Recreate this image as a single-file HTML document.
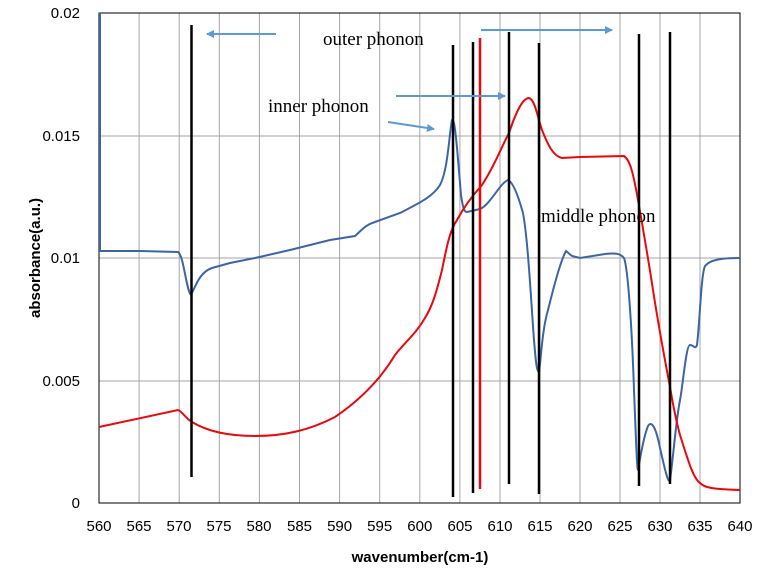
<!DOCTYPE html>
<html><head><meta charset="utf-8"><style>
body{margin:0;background:#fff}
svg text{font-family:"Liberation Sans",sans-serif}
</style></head><body>
<svg width="765" height="574" viewBox="0 0 765 574" xmlns="http://www.w3.org/2000/svg">
<defs><marker id="ah" markerWidth="8" markerHeight="8" refX="7" refY="4" orient="auto" markerUnits="userSpaceOnUse"><path d="M0,0 L8,4 L0,8 z" fill="#5b9bd5"/></marker></defs>
<g stroke="#a6a6a6" stroke-width="1">
<line x1="139.1" y1="13" x2="139.1" y2="503"/><line x1="179.2" y1="13" x2="179.2" y2="503"/><line x1="219.3" y1="13" x2="219.3" y2="503"/><line x1="259.4" y1="13" x2="259.4" y2="503"/><line x1="299.5" y1="13" x2="299.5" y2="503"/><line x1="339.6" y1="13" x2="339.6" y2="503"/><line x1="379.7" y1="13" x2="379.7" y2="503"/><line x1="419.8" y1="13" x2="419.8" y2="503"/><line x1="459.9" y1="13" x2="459.9" y2="503"/><line x1="500" y1="13" x2="500" y2="503"/><line x1="540" y1="13" x2="540" y2="503"/><line x1="580" y1="13" x2="580" y2="503"/><line x1="620" y1="13" x2="620" y2="503"/><line x1="660" y1="13" x2="660" y2="503"/><line x1="700" y1="13" x2="700" y2="503"/>
<line x1="99" y1="136" x2="740" y2="136"/><line x1="99" y1="258" x2="740" y2="258"/><line x1="99" y1="381" x2="740" y2="381"/>
</g>
<rect x="99" y="13" width="641" height="490" fill="none" stroke="#000" stroke-width="1"/>
<g font-size="15" fill="#000" text-anchor="end">
<text x="80" y="18">0.02</text><text x="80" y="141">0.015</text><text x="80" y="263">0.01</text><text x="80" y="386">0.005</text><text x="80" y="508">0</text>
</g>
<g font-size="15" fill="#000" text-anchor="middle">
<text x="99" y="531">560</text><text x="139" y="531">565</text><text x="179" y="531">570</text><text x="219" y="531">575</text><text x="259" y="531">580</text><text x="299.5" y="531">585</text><text x="339.6" y="531">590</text><text x="379.7" y="531">595</text><text x="419.8" y="531">600</text><text x="460" y="531">605</text><text x="500" y="531">610</text><text x="540" y="531">615</text><text x="580" y="531">620</text><text x="620" y="531">625</text><text x="660" y="531">630</text><text x="700" y="531">635</text><text x="740" y="531">640</text>
</g>
<text x="420" y="562" font-size="15" font-weight="bold" text-anchor="middle">wavenumber(cm-1)</text>
<text transform="translate(40,258) rotate(-90)" font-size="15" font-weight="bold" text-anchor="middle">absorbance(a.u.)</text>
<path d="M100,13 L100,251 L140,251 L178,252 C184,256 186,290 191,295 C196,285 200,272 212,268 L230,263 L255,258 L290,250 L330,240 L355,236 C362,230 365,225 375,222 L400,213 C415,205 432,198 440,185 C448,170 449,135 452,120 C455,115 458,160 461,195 C463,208 464,212 467,212 L480,209 C490,205 500,183 508,180 C513,182 518,195 523,213 C528,240 531,300 534,340 C536,365 537,372 539,372 C541,360 542,330 548,310 C553,290 560,262 566,251 L572,256 L580,258 L605,254 C615,253 620,253 624,258 C628,268 632,330 634,390 C636,440 637,470 638,470 C640,460 643,438 648,426 C652,420 656,428 660,448 C664,465 668,485 670,480 C673,460 676,420 680,400 C683,385 686,345 690,345 C694,345 695,350 697,345 C700,320 701,275 705,266 C710,260 720,258 740,258" fill="none" stroke="#3c64a6" stroke-width="2"/>
<path d="M99,427 L178,410 C183,412 185,418 192,422 C205,430 225,436 255,436 C285,436 310,430 335,417 C360,400 380,380 395,355 C405,342 415,335 425,318 C433,305 437,290 442,270 C447,245 450,230 457,220 C465,205 473,195 482,185 C495,165 500,150 509,133 C515,115 522,98 529,98 C535,100 537,115 542,130 C548,145 553,156 562,158 L580,157 L624,156 C630,160 633,172 638,200 C645,240 650,270 653,290 C660,335 665,360 670,387 C673,405 676,420 680,435 C688,460 693,478 700,483 C705,488 712,489 740,490" fill="none" stroke="#e8090c" stroke-width="2"/>
<g stroke="#000" stroke-width="2.5">
<line x1="191.5" y1="25" x2="191.5" y2="477"/><line x1="453" y1="45" x2="453" y2="497"/><line x1="473" y1="42" x2="473" y2="493"/><line x1="509" y1="32" x2="509" y2="484"/><line x1="539" y1="43" x2="539" y2="494"/><line x1="639" y1="34" x2="639" y2="486"/><line x1="670" y1="32" x2="670" y2="484"/>
</g>
<line x1="480" y1="38" x2="480" y2="489" stroke="#e8090c" stroke-width="2.5"/>
<g stroke="#5b9bd5" stroke-width="2" marker-end="url(#ah)">
<line x1="276" y1="34" x2="207" y2="34"/><line x1="396" y1="96" x2="505" y2="96"/><line x1="388" y1="122" x2="434" y2="129"/><line x1="481" y1="30" x2="612" y2="30"/>
</g>
<g font-size="19" fill="#000">
<text x="323" y="45" style="font-family:'Liberation Serif',serif">outer phonon</text>
<text x="268" y="112" style="font-family:'Liberation Serif',serif">inner phonon</text>
<text x="541" y="222" style="font-family:'Liberation Serif',serif">middle phonon</text>
</g>
</svg>
</body></html>
